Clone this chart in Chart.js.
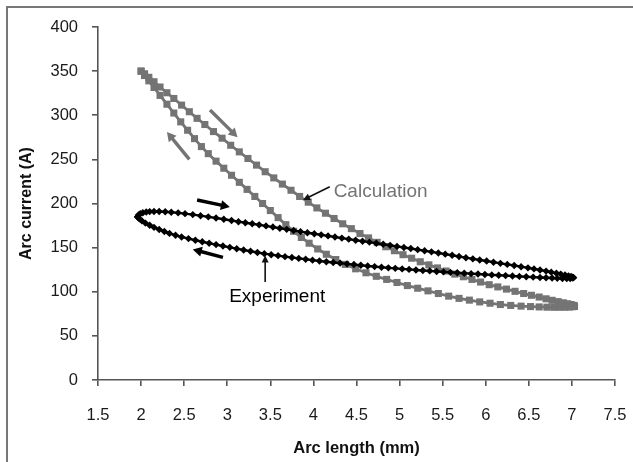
<!DOCTYPE html>
<html><head><meta charset="utf-8">
<script src="https://cdn.jsdelivr.net/npm/chart.js@4/dist/chart.umd.min.js"></script>
<style>html,body{margin:0;padding:0;background:#fff}canvas{display:block}</style>
</head><body>
<canvas id="c" width="633" height="462"></canvas>
<script>
// ---- tick labels ----
const xTicks = [1.5,2,2.5,3,3.5,4,4.5,5,5.5,6,6.5,7,7.5];
const yTicks = [0,50,100,150,200,250,300,350,400];

// ---- Calculation loop (gray squares): branch going down-right, then branch going back up-left ----
const calcDown = [[2.00,350],[2.04,347],[2.09,343],[2.15,338],[2.22,332],[2.30,325.5],[2.38,319],[2.47,311.5],[2.56,304],[2.65,296.5],[2.74,289.5],[2.84,281.5],[2.94,274],[3.04,266],[3.14,258.5],[3.24,251],[3.34,243.5],[3.44,236],[3.54,229],[3.64,222],[3.74,215],[3.84,208],[3.94,201.5],[4.04,195],[4.14,189],[4.24,183],[4.34,177],[4.44,171.5],[4.54,166],[4.64,161],[4.74,156],[4.84,151],[4.94,146.5],[5.04,142],[5.14,138],[5.24,134],[5.34,130.5],[5.44,127],[5.54,123.5],[5.64,120],[5.74,117],[5.84,114],[5.94,111],[6.04,108],[6.14,105.5],[6.24,103],[6.34,100.5],[6.44,98],[6.53,96],[6.62,94],[6.70,92],[6.77,90.3],[6.84,88.8],[6.90,87.5],[6.95,86.4],[6.99,85.5],[7.02,84.6],[7.03,83.8]];
const calcUp = [[7.03,83.4],[7.01,83],[6.97,82.7],[6.92,82.5],[6.86,82.4],[6.79,82.4],[6.71,82.5],[6.62,82.8],[6.52,83.2],[6.41,83.7],[6.29,84.5],[6.17,85.5],[6.05,87],[5.93,88.5],[5.81,90.5],[5.69,92.5],[5.57,95],[5.45,98],[5.33,101],[5.21,104],[5.09,107],[4.97,110.5],[4.85,114],[4.73,117.5],[4.61,121.5],[4.49,126],[4.37,131],[4.26,136.5],[4.15,142.5],[4.05,148.5],[3.95,155],[3.86,161.5],[3.77,168.5],[3.68,176],[3.59,184],[3.50,192],[3.41,200],[3.32,208],[3.23,216],[3.14,224],[3.05,232],[2.96,240],[2.87,248],[2.78,256.5],[2.70,264.5],[2.62,273.5],[2.54,283],[2.46,292.5],[2.38,302.5],[2.30,312.5],[2.22,322.5],[2.15,331.5],[2.09,339],[2.04,345],[2.00,350]];

// ---- Experiment loop (black diamonds): upper branch going right, lower branch going left ----
const expRight = [[1.96,185],[1.97,187],[1.99,188.5],[2.02,189.5],[2.06,190.3],[2.10,190.8],[2.15,191],[2.21,191],[2.28,190.6],[2.35,190.1],[2.43,189.4],[2.51,188.5],[2.60,187.4],[2.69,186.2],[2.78,184.9],[2.87,183.6],[2.96,182.2],[3.05,180.8],[3.13,179.4],[3.21,178.2],[3.29,177],[3.37,175.8],[3.45,174.6],[3.53,173.3],[3.61,172],[3.69,170.7],[3.77,169.4],[3.85,168.1],[3.93,166.9],[4.01,165.7],[4.09,164.5],[4.17,163.3],[4.25,162],[4.33,160.8],[4.41,159.6],[4.49,158.4],[4.57,157.3],[4.65,156.2],[4.73,155],[4.81,153.8],[4.89,152.6],[4.97,151.4],[5.05,150.2],[5.13,149],[5.21,147.7],[5.29,146.5],[5.37,145.2],[5.45,143.9],[5.53,142.6],[5.61,141.3],[5.69,140],[5.77,138.6],[5.85,137.3],[5.93,136],[6.01,134.8],[6.09,133.5],[6.17,132.2],[6.25,131],[6.33,129.7],[6.41,128.4],[6.49,127.1],[6.56,125.9],[6.63,124.7],[6.70,123.4],[6.76,122.2],[6.82,121],[6.87,120],[6.92,118.9],[6.96,118],[6.99,117.2],[7.01,116.6]];
const expLeft = [[7.02,116],[7.01,115.4],[6.98,115],[6.94,114.9],[6.89,115],[6.83,115.2],[6.77,115.5],[6.70,115.8],[6.63,116.2],[6.55,116.6],[6.47,117],[6.39,117.4],[6.31,117.8],[6.23,118.3],[6.15,118.7],[6.07,119.1],[5.99,119.6],[5.91,120.1],[5.83,120.5],[5.75,121],[5.67,121.5],[5.59,122],[5.51,122.5],[5.43,123],[5.35,123.6],[5.27,124.1],[5.19,124.7],[5.11,125.3],[5.03,125.9],[4.95,126.5],[4.87,127.1],[4.79,127.8],[4.71,128.5],[4.63,129.2],[4.55,130],[4.47,130.8],[4.39,131.6],[4.31,132.4],[4.23,133.2],[4.15,134],[4.07,134.9],[3.99,135.8],[3.91,136.8],[3.83,137.8],[3.75,138.8],[3.67,139.8],[3.59,140.9],[3.51,142],[3.43,143.2],[3.35,144.5],[3.27,145.9],[3.19,147.3],[3.11,148.8],[3.03,150.3],[2.95,151.8],[2.87,153.4],[2.79,155],[2.71,156.7],[2.63,158.4],[2.55,160.2],[2.47,162.1],[2.40,164],[2.33,166.1],[2.27,168.3],[2.21,170.6],[2.15,173],[2.10,175.3],[2.05,177.8],[2.01,180.3],[1.98,182.6],[1.96,184.6]];

// ---- annotations (data coordinates) ----
const grayArrows = [[2.80,306,3.12,275],[2.56,250,2.30,281]];
const blackArrows = [[2.65,204,3.03,196],[2.95,139,2.60,148]];
const calcLeader = [4.19,219,3.88,204];
const expLeader = [3.44,111,3.44,141];
const calcLabel = {text:'Calculation', x:4.78, y:213};
const expLabel = {text:'Experiment', x:3.58, y:94};

const toXY = a => a.map(p => ({x:p[0], y:p[1]}));
const GRAY = '#747474';
const FONT = '"Liberation Sans", Arial, Helvetica, sans-serif';
Chart.defaults.font.family = FONT;

function arrow(ctx, x1, y1, x2, y2, color, lw, hl, hw) {
  const a = Math.atan2(y2 - y1, x2 - x1);
  const bx = x2 - hl * Math.cos(a), by = y2 - hl * Math.sin(a);
  ctx.save();
  ctx.strokeStyle = color; ctx.fillStyle = color; ctx.lineWidth = lw; ctx.lineCap = 'butt';
  ctx.beginPath(); ctx.moveTo(x1, y1); ctx.lineTo(bx + 0.3*hl*Math.cos(a), by + 0.3*hl*Math.sin(a)); ctx.stroke();
  ctx.beginPath();
  ctx.moveTo(x2, y2);
  ctx.lineTo(bx + hw * Math.sin(a), by - hw * Math.cos(a));
  ctx.lineTo(bx - hw * Math.sin(a), by + hw * Math.cos(a));
  ctx.closePath(); ctx.fill();
  ctx.restore();
}

const annot = {
  id: 'annot',
  beforeDraw(chart) {
    const ctx = chart.ctx;
    ctx.save(); ctx.fillStyle = '#fff'; ctx.fillRect(0, 0, chart.width, chart.height); ctx.restore();
  },
  afterDatasetsDraw(chart) {
    const ctx = chart.ctx, xs = chart.scales.x, ys = chart.scales.y;
    const P = (x, y) => [xs.getPixelForValue(x), ys.getPixelForValue(y)];
    const seg = (s, c, lw, hl, hw) => { const a = P(s[0], s[1]), b = P(s[2], s[3]); arrow(ctx, a[0], a[1], b[0], b[1], c, lw, hl, hw); };
    grayArrows.forEach(s => seg(s, GRAY, 3.4, 9, 5));
    blackArrows.forEach(s => seg(s, '#000', 3.4, 9, 5));
    seg(calcLeader, '#111', 1.6, 7, 3.5);
    seg(expLeader, '#111', 1.6, 7, 3.5);
    ctx.save();
    ctx.font = '19px ' + FONT; ctx.textBaseline = 'middle'; ctx.textAlign = 'center';
    let p = P(calcLabel.x, calcLabel.y); ctx.fillStyle = GRAY; ctx.fillText(calcLabel.text, p[0], p[1]);
    p = P(expLabel.x, expLabel.y); ctx.fillStyle = '#000'; ctx.fillText(expLabel.text, p[0], p[1]);
    ctx.restore();
  },
  afterDraw(chart) {
    const ctx = chart.ctx;
    ctx.save(); ctx.strokeStyle = '#777'; ctx.lineWidth = 2;
    ctx.beginPath(); ctx.moveTo(7, chart.height); ctx.lineTo(7, 7); ctx.lineTo(chart.width, 7); ctx.stroke();
    ctx.restore();
  }
};

const axisColor = '#555';
new Chart(document.getElementById('c'), {
  type: 'scatter',
  data: {
    datasets: [
      { label: 'Experiment', data: toXY(expRight.concat(expLeft, [expRight[0]])), showLine: true,
        borderColor: '#000', borderWidth: 2.4, backgroundColor: '#000', pointBackgroundColor: '#000',
        pointBorderColor: '#000', pointBorderWidth: 0, pointStyle: 'rectRot', pointRadius: 3.7, tension: 0, order: 0 },
      { label: 'Calculation', data: toXY(calcDown.concat(calcUp)), showLine: true,
        borderColor: GRAY, borderWidth: 2.8, backgroundColor: GRAY, pointBackgroundColor: GRAY,
        pointBorderColor: GRAY, pointBorderWidth: 0, pointStyle: 'rect', pointRadius: 5, tension: 0, order: 1 }
    ]
  },
  options: {
    responsive: false, animation: false,
    layout: { padding: { top: 27, right: 18, left: 0, bottom: 0 } },
    plugins: { legend: { display: false }, tooltip: { enabled: false } },
    scales: {
      x: {
        type: 'linear', min: 1.5, max: 7.5, offset: false,
        afterBuildTicks: s => { s.ticks = xTicks.map(v => ({ value: v })); },
        afterFit: s => { s.height = 82; s.paddingRight = 12; s.paddingLeft = 12; },
        ticks: { color: '#1a1a1a', font: { size: 16.5 }, padding: 20, maxRotation: 0, autoSkip: false,
                 callback: v => String(v) },
        grid: { display: true, drawOnChartArea: false, drawTicks: true, tickLength: 6, color: axisColor, lineWidth: 1.6 },
        border: { display: true, color: axisColor, width: 1.6 },
        title: { display: true, text: 'Arc length (mm)', color: '#111', font: { size: 16.5, weight: 'bold' }, padding: { top: 0, bottom: 4 } }
      },
      y: {
        type: 'linear', min: 0, max: 400,
        afterBuildTicks: s => { s.ticks = yTicks.map(v => ({ value: v })); },
        afterFit: s => { s.width = 98; },
        ticks: { color: '#1a1a1a', font: { size: 16.5 }, padding: 14, autoSkip: false, callback: v => String(v) },
        grid: { display: true, drawOnChartArea: false, drawTicks: true, tickLength: 6, color: axisColor, lineWidth: 1.6 },
        border: { display: true, color: axisColor, width: 1.6 },
        title: { display: true, text: 'Arc current (A)', color: '#111', font: { size: 16, weight: 'bold' }, padding: { top: 17, bottom: 0 } }
      }
    }
  },
  plugins: [annot]
});
</script>
</body></html>
